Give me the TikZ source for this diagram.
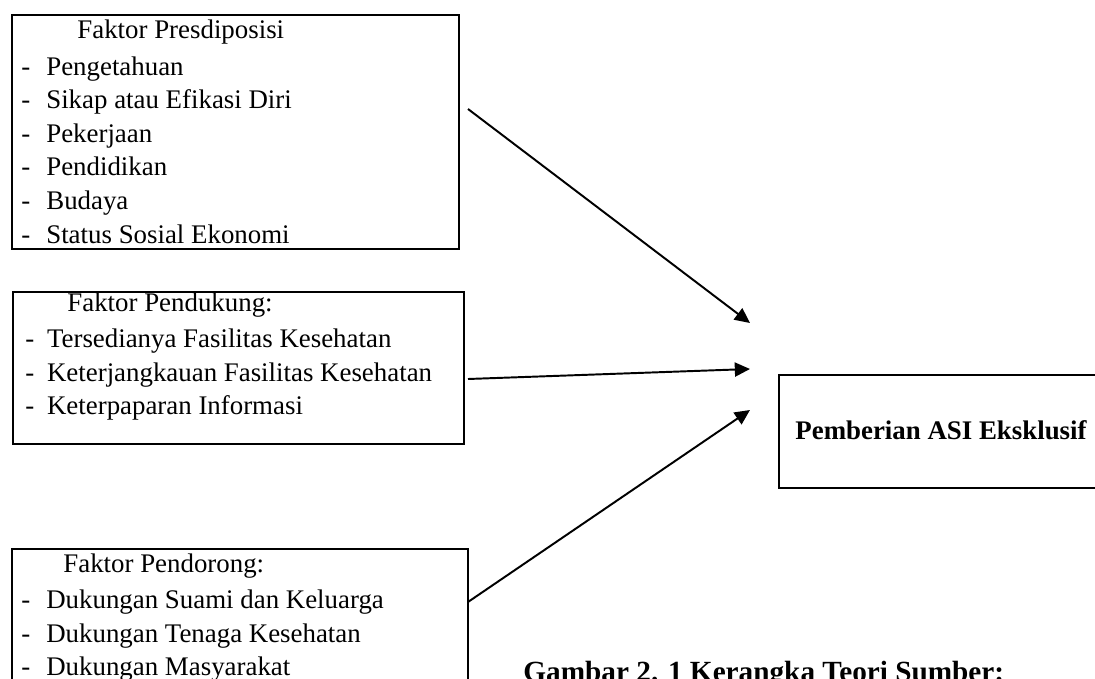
\documentclass[tikz,border=0pt]{standalone}
\usepackage{fontspec}
\setmainfont{Liberation Serif}
\usetikzlibrary{arrows.meta,positioning}

\begin{document}
\begin{tikzpicture}[
    x=0.4615pt, y=-0.4615pt,
    >={Triangle[length=7pt,width=6.5pt]},
    % gaya kotak dan teks
    box/.style={draw, line width=0.9pt, anchor=north west, inner sep=0pt},
    txt/.style={anchor=base west, inner sep=0pt, font=\fontsize{12.4}{14}\selectfont},
    arr/.style={->, line width=0.9pt},
]
    % --- ukuran dasar ---
    \def\px{0.4615pt} % satu piksel
    \def\lineH{33.6}  % jarak antar baris

    \useasboundingbox (0,0) rectangle (1095,679);

    % --- 1. Faktor Presdiposisi ---
    \node[box, minimum width=447*\px, minimum height=234*\px] (pre) at (11,14) {};
    \node[txt] (preT) at (77,38) {Faktor Presdiposisi};
    \foreach \t [count=\i] in {Pengetahuan, Sikap atau Efikasi Diri, Pekerjaan,
                               Pendidikan, Budaya, Status Sosial Ekonomi}
        \node[txt] (pre-\i) at (21, 41.5+\i*\lineH) {\makebox[11.5pt][l]{-}\t};

    % --- 2. Faktor Pendukung ---
    \node[box, minimum width=451*\px, minimum height=152*\px] (pdk) at (12,291) {};
    \node[txt] (pdkT) at (67,311) {Faktor Pendukung:};
    \foreach \t [count=\i] in {Tersedianya Fasilitas Kesehatan,
                               Keterjangkauan Fasilitas Kesehatan,
                               Keterpaparan Informasi}
        \node[txt] (pdk-\i) at (25, 314+\i*\lineH) {\makebox[10pt][l]{-}\t};

    % --- 3. Faktor Pendorong ---
    \node[box, minimum width=456*\px, minimum height=200*\px] (pdr) at (11,548) {};
    \node[txt] (pdrT) at (63,572) {Faktor Pendorong:};
    \foreach \t [count=\i] in {Dukungan Suami dan Keluarga,
                               Dukungan Tenaga Kesehatan,
                               Dukungan Masyarakat}
        \node[txt] (pdr-\i) at (21, 575+\i*\lineH) {\makebox[11.5pt][l]{-}\t};

    % --- 4. Pemberian ASI Eksklusif ---
    \node[box, minimum width=360*\px, minimum height=113*\px] (asi) at (778,374) {};
    \node[anchor=base, inner sep=0pt, font=\fontsize{12.4}{14}\selectfont\bfseries]
        (asiT) at (941,439) {Pemberian ASI Eksklusif};

    % --- 5. Panah ---
    \coordinate (s1) at (468,109);  \coordinate (e1) at (750,323);
    \coordinate (s2) at (468,379);  \coordinate (e2) at (750,369);
    \coordinate (s3) at (468,602);  \coordinate (e3) at (750,410);
    \draw[arr] (s1) -- (e1);
    \draw[arr] (s2) -- (e2);
    \draw[arr] (s3) -- (e3);

    % --- 6. Judul gambar ---
    \node[anchor=base west, inner sep=0pt, font=\fontsize{13.5}{16}\selectfont\bfseries]
        (cap) at (523,681) {Gambar 2. 1 Kerangka Teori Sumber:};

\end{tikzpicture}
\end{document}
